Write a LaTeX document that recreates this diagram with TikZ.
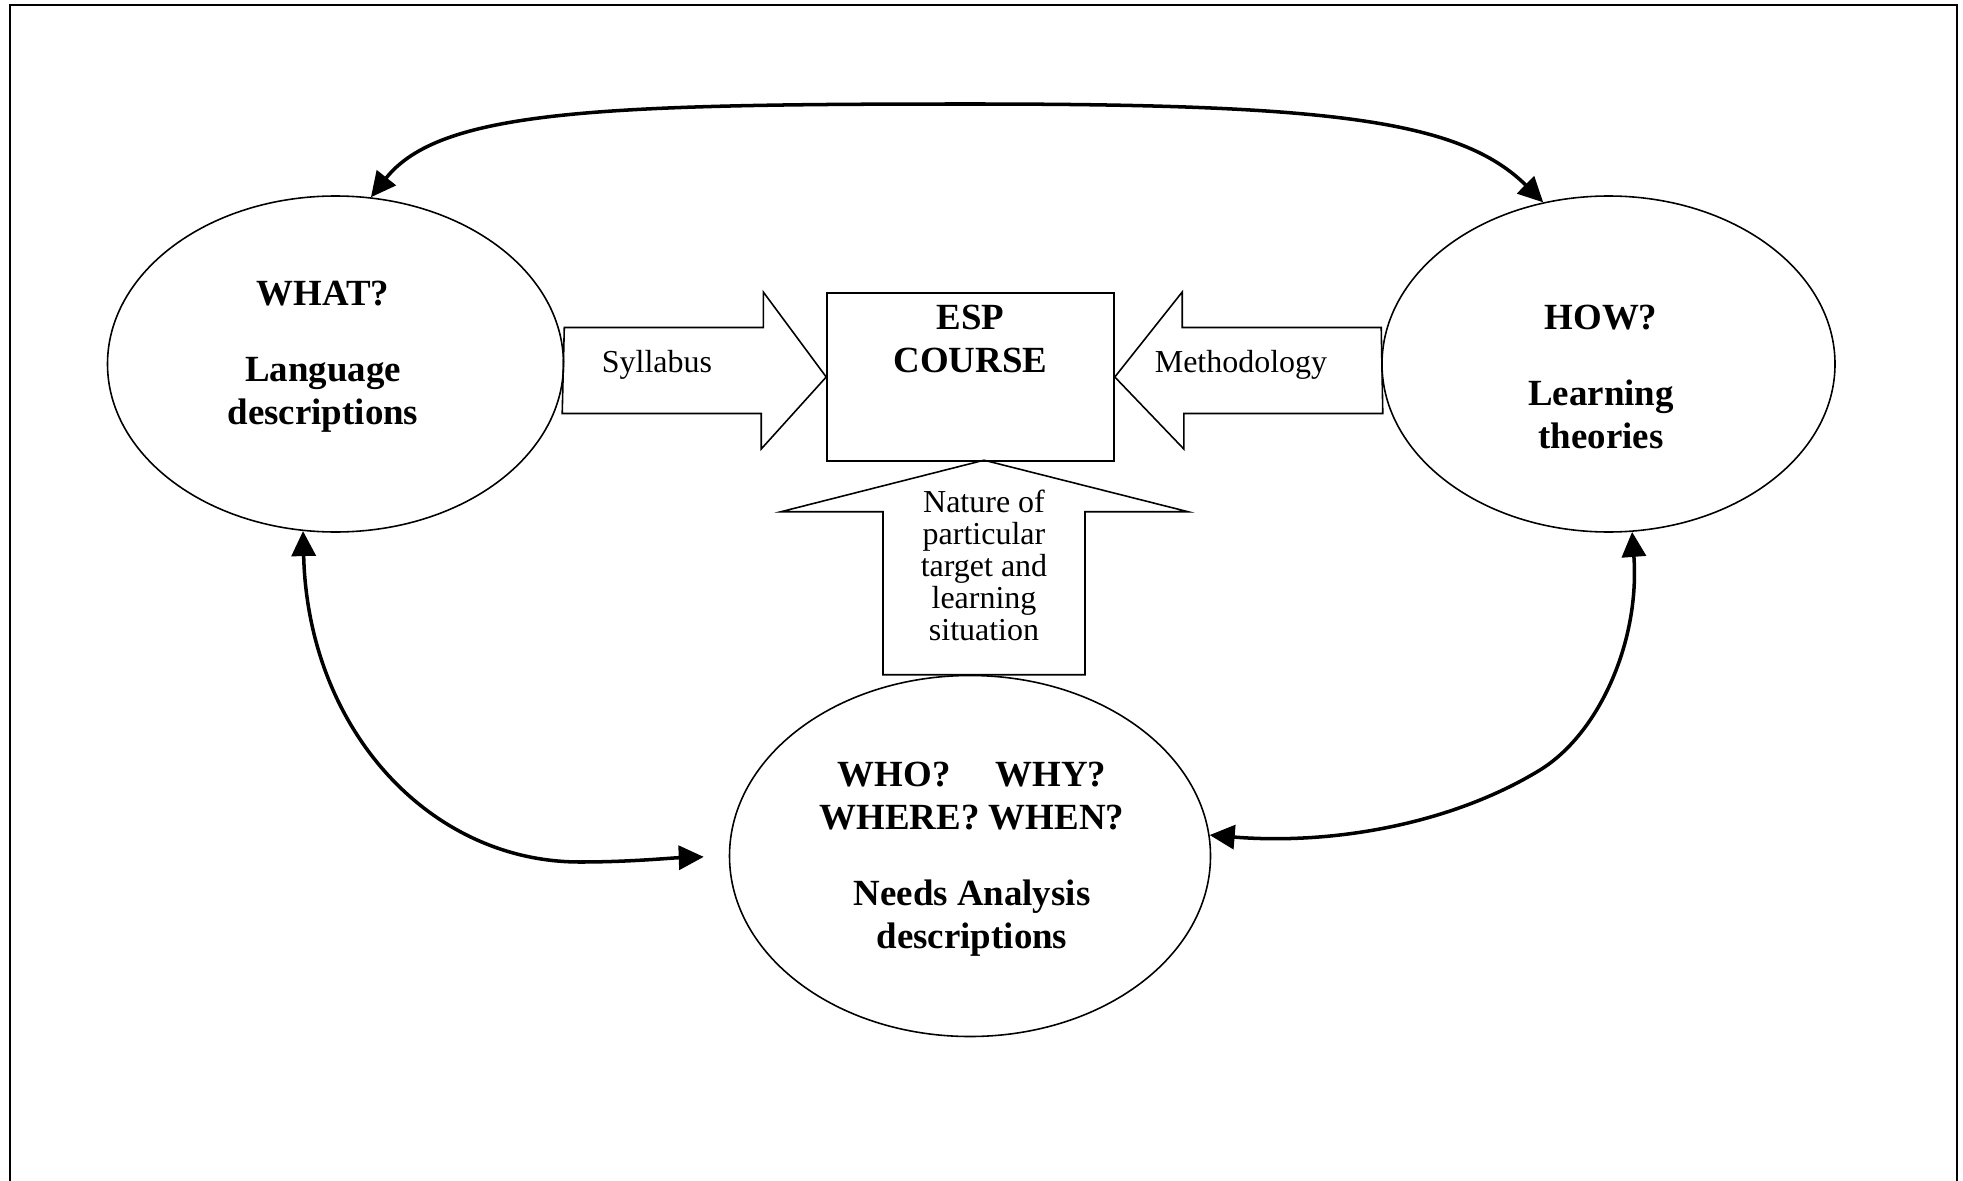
\documentclass[tikz,border=0pt]{standalone}
\usepackage{fontspec}
\setmainfont{Liberation Serif}
\usetikzlibrary{arrows.meta,shapes.geometric,positioning}

\begin{document}
\begin{tikzpicture}[bubble/.style={ellipse,draw,line width=0.45pt,inner sep=0pt},
bigtext/.style={font=\fontsize{10.5}{12.2}\selectfont\bfseries,align=center,inner sep=0pt,anchor=north},
smalltext/.style={font=\fontsize{9.1}{9.1}\selectfont,align=center,inner sep=0pt},
blockarrow/.style={draw,line width=0.45pt,line join=miter},
link/.style={{Triangle[length=2.5mm,width=2.4mm]}-{Triangle[length=2.5mm,width=2.4mm]},line width=1pt}]
\useasboundingbox (0,0) rectangle (19.63,-11.81);
\draw[line width=0.6pt] (0.10,-11.81) -- (0.10,-0.05) -- (19.57,-0.05) -- (19.57,-11.81);
\node[bubble,minimum width=4.56cm,minimum height=3.36cm] (what) at (3.355,-3.64) {};
\node[bubble,minimum width=4.53cm,minimum height=3.36cm] (how) at (16.085,-3.64) {};
\node[bubble,minimum width=4.81cm,minimum height=3.61cm] (needs) at (9.70,-8.56) {};
\node[draw,line width=0.45pt,minimum width=2.87cm,minimum height=1.68cm,inner sep=0pt] (esp) at (9.705,-3.77) {};
\node[bigtext] (whatlbl) at (3.23,-2.805) {WHAT?\\[9.4pt]Language\\descriptions};
\node[bigtext] (howlbl) at (16.01,-3.045) {HOW?\\[9.4pt]Learning\\theories};
\node[bigtext,below=0.12 of esp.north] (esplbl) {ESP\\COURSE};
\node[bigtext] (needslbl) at (9.72,-7.615) {WHO?\hspace{4.5mm}WHY?\\WHERE? WHEN?\\[9.4pt]Needs Analysis\\descriptions};
\node[smalltext] (syl) at (6.57,-3.645) {Syllabus};
\node[smalltext] (meth) at (12.41,-3.645) {Methodology};
\node[smalltext] (nature) at (9.84,-5.65) {Nature of\\particular\\target and\\learning\\situation};
\draw[blockarrow] (what.east) ++(0,0.365) -- ++(1.99,0) -- ++(0,0.355) -- (esp.west) -- ++(-0.65,-0.72) -- ++(0,0.355) -- ++(-1.99,0) -- cycle;
\draw[blockarrow] (how.west) ++(0,0.365) -- ++(-1.99,0) -- ++(0,0.355) -- (esp.east) -- ++(0.69,-0.72) -- ++(0,0.355) -- ++(1.99,0) -- cycle;
\draw[blockarrow] (needs.north) ++(-0.87,0) -- ++(0,1.63) -- ++(-1.02,0) -- ++(2.03,0.515) -- ++(2.04,-0.515) -- ++(-1.03,0) -- ++(0,-1.63) -- cycle;
\coordinate (apex) at (9.70,-1.04);
\draw[link] (what.78) .. controls (4.40,-1.10) and (6.00,-1.04) .. (apex) .. controls (13.30,-1.04) and (14.60,-1.20) .. (how.112);
\draw[link,shorten >=0.25cm] (what.259) .. controls (3.08,-7.30) and (4.30,-8.62) .. (5.80,-8.62) .. controls (6.30,-8.62) and (6.70,-8.58) .. (needs.west);
\draw[link] (needs.5) .. controls (13.30,-8.45) and (14.50,-8.25) .. (15.40,-7.70) .. controls (16.00,-7.33) and (16.40,-6.40) .. (how.278);
\end{tikzpicture}
\end{document}
